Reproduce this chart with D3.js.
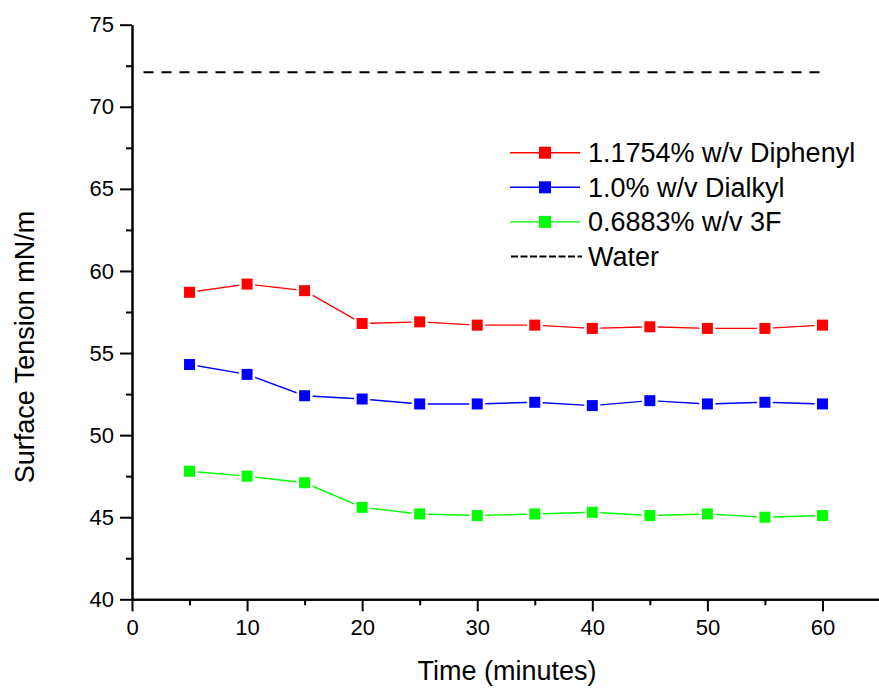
<!DOCTYPE html>
<html>
<head>
<meta charset="utf-8">
<script src="https://cdn.jsdelivr.net/npm/d3@7"></script>
<style>
  html, body { margin: 0; padding: 0; background: #fff; }
  svg { display: block; font-family: "Liberation Sans", Arial, sans-serif; }
</style>
</head>
<body>
<svg id="chart" width="879" height="688"></svg>
<script>
// ---- data ----
const times = [5, 10, 15, 20, 25, 30, 35, 40, 45, 50, 55, 60];
const diphenyl = [58.7, 59.2, 58.8, 56.8, 56.9, 56.7, 56.7, 56.5, 56.6, 56.5, 56.5, 56.7];
const dialkyl  = [54.3, 53.7, 52.4, 52.2, 51.9, 51.9, 52.0, 51.8, 52.1, 51.9, 52.0, 51.9];
const threeF   = [47.8, 47.5, 47.1, 45.6, 45.2, 45.1, 45.2, 45.3, 45.1, 45.2, 45.0, 45.1];
const waterX = [1, 60];
const waterY = [72.1, 72.1];
const seriesNames = ["1.1754% w/v Diphenyl", "1.0% w/v Dialkyl", "0.6883% w/v 3F", "Water"];
const seriesColors = ["#ff0000", "#0000ff", "#00ff00", "#000000"];
const xTicks = [0, 10, 20, 30, 40, 50, 60];
const xMinor = [5, 15, 25, 35, 45, 55];
const yTicks = [40, 45, 50, 55, 60, 65, 70, 75];
const yMinor = [42.5, 47.5, 52.5, 57.5, 62.5, 67.5, 72.5];
const xTitle = "Time (minutes)";
const yTitle = "Surface Tension mN/m";

// ---- layout ----
const svg = d3.select("#chart");
const x = d3.scaleLinear().domain([0, 65]).range([132, 880]);
const y = d3.scaleLinear().domain([40, 75]).range([599.3, 24.7]);

// axes
const yAxis = d3.axisLeft(y).tickValues(yTicks).tickFormat(d3.format("d")).tickSize(12).tickSizeOuter(0).tickPadding(6);
const yAxisMinor = d3.axisLeft(y).tickValues(yMinor).tickFormat("").tickSize(6).tickSizeOuter(0);
const xAxis = d3.axisBottom(x).tickValues(xTicks).tickFormat(d3.format("d")).tickSize(12).tickSizeOuter(0).tickPadding(8);
const xAxisMinor = d3.axisBottom(x).tickValues(xMinor).tickFormat("").tickSize(6).tickSizeOuter(0);

function styleAxis(g) {
  g.select(".domain").attr("stroke", "#000").attr("stroke-width", 2);
  g.selectAll(".tick line").attr("stroke", "#000").attr("stroke-width", 2);
  g.selectAll(".tick text").attr("fill", "#000").style("font-size", "22px")
    .style("font-family", '"Liberation Sans", Arial, sans-serif');
}

svg.append("g").attr("transform", `translate(${x(0)},0)`).call(yAxisMinor).call(styleAxis);
svg.append("g").attr("transform", `translate(${x(0)},0)`).call(yAxis).call(styleAxis);
svg.append("g").attr("transform", `translate(0,${y(40)})`).call(xAxisMinor).call(styleAxis);
svg.append("g").attr("transform", `translate(0,${y(40)})`).call(xAxis).call(styleAxis);

// axis titles
svg.append("text").attr("x", 507).attr("y", 680).attr("text-anchor", "middle")
  .style("font-size", "27px").text(xTitle);
svg.append("text").attr("transform", `translate(34,347) rotate(-90)`).attr("text-anchor", "middle")
  .style("font-size", "27px").text(yTitle);

// water line
svg.append("line")
  .attr("x1", x(waterX[0])).attr("x2", x(waterX[1]))
  .attr("y1", y(waterY[0])).attr("y2", y(waterY[1]))
  .attr("stroke", "#000").attr("stroke-width", 2).attr("stroke-dasharray", "10,8");

// series
const seriesData = [diphenyl, dialkyl, threeF];
const line = d3.line().x(d => x(d[0])).y(d => y(d[1]));
seriesData.forEach((vals, i) => {
  const pts = times.map((t, j) => [t, vals[j]]);
  svg.append("path").datum(pts).attr("d", line)
    .attr("fill", "none").attr("stroke", seriesColors[i]).attr("stroke-width", 1.4);
  svg.append("g").selectAll("rect").data(pts).join("rect")
    .attr("x", d => x(d[0]) - 5.5).attr("y", d => y(d[1]) - 5.5)
    .attr("width", 11).attr("height", 11)
    .attr("fill", seriesColors[i])
    .attr("stroke", "#fff").attr("stroke-width", 5)
    .style("paint-order", "stroke");
});

// legend
const legY0 = 152.7, legStep = 34.6;
const leg = svg.append("g");
seriesNames.forEach((name, i) => {
  const ly = legY0 + i * legStep;
  const g = leg.append("g");
  if (i < 3) {
    g.append("line").attr("x1", 510).attr("x2", 580).attr("y1", ly).attr("y2", ly)
      .attr("stroke", seriesColors[i]).attr("stroke-width", 1.4);
    g.append("rect").attr("x", 545 - 6).attr("y", ly - 6).attr("width", 12).attr("height", 12)
      .attr("fill", seriesColors[i]);
  } else {
    g.append("line").attr("x1", 511).attr("x2", 582).attr("y1", ly).attr("y2", ly)
      .attr("stroke", "#000").attr("stroke-width", 2).attr("stroke-dasharray", "7,2.5");
  }
  g.append("text").attr("x", 588).attr("y", ly + 9.5).style("font-size", "27px").text(name);
});
</script>
</body>
</html>
